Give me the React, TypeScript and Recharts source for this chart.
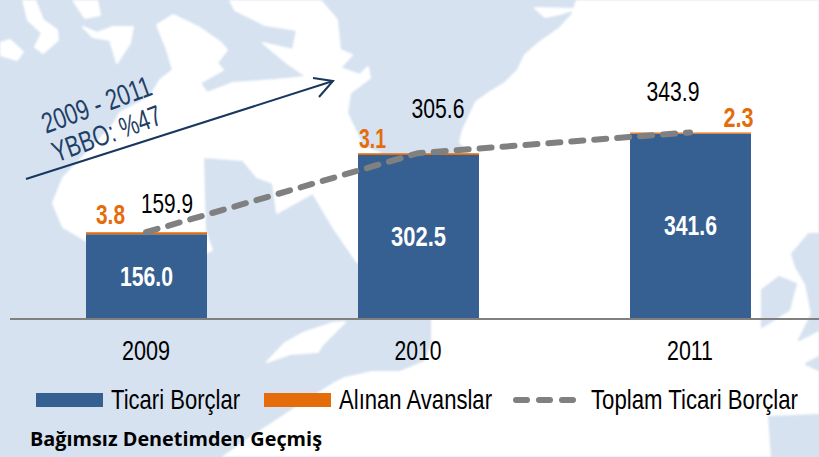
import { Bar, ComposedChart, LabelList, Line, XAxis, YAxis } from "recharts";

const years = ["2009", "2010", "2011"];
const ticariBorclar = [156.0, 302.5, 341.6];
const alinanAvanslar = [3.8, 3.1, 2.3];
const toplamTicari = [159.9, 305.6, 343.9];
const legendNames = ["Ticari Borçlar", "Alınan Avanslar", "Toplam Ticari Borçlar"];

const chartData = years.map((year, i) => ({
  year,
  ticari: ticariBorclar[i],
  avans: alinanAvanslar[i],
  toplam: toplamTicari[i],
}));

const BLUE = "#376092";
const ORANGE = "#e46c0a";
const GREY = "#808080";
const MAP = "#d6e2f0";
const FONT = '"Liberation Sans", Arial, sans-serif';

// label nudges, one per year
const avansOffset = [
  { dx: -36, dy: -18 },
  { dx: -46, dy: -15 },
  { dx: 48, dy: -15 },
];
const toplamOffset = [
  { dx: 21, dy: -29 },
  { dx: 20, dy: -45 },
  { dx: -17, dy: -41 },
];

// the source text is squeezed horizontally, so widths are set per label
const yearWidth = [48, 47, 46];
const ticariWidth = [53, 55, 53];
const avansWidth = [29, 27, 30];
const toplamWidth = [52, 53, 53];

// backdrop world map, traced by eye
const whiteLand = [
  "230,0 320,0 337,20 340,50 352,55 340,68 360,75 368,67 370,78 350,93 347,113 363,147 380,153 380,270 357,262 333,227 313,193 277,213 273,183 257,177 243,160 203,157 205,230 212,250 205,253 150,260 85,240 63,227 53,203 63,178 85,155 113,125 120,113 150,97 160,80 173,70 167,50 157,25 173,15 200,28 220,42 227,50 217,63 223,70 200,83 207,93 233,83 275,80 307,77 287,63 263,43 293,50 297,30 265,25 235,10",
  "577,0 819,0 819,457 223,457 262,430 300,405 333,384 345,378 372,372 400,372 425,362 432,345 432,318 478,318 478,153 470,153 460,142 463,130 470,115 476,102 490,92 505,83 518,70 525,55 540,42 560,28 572,15",
  "267,362 285,343 303,333 333,323 345,322 322,345 318,352 290,354",
  "23,0 35,0 43,20 57,30 58,40 43,53 35,47 42,33 28,20",
  "0,43 10,40 23,52 17,60 0,55",
  "83,27 97,33 113,27 133,27 130,43 117,63 110,40 93,37",
  "73,0 97,0 100,15 85,18",
  "535,8 575,9 560,14 545,17",
];
const blueLand = [
  "762,290 779,277 796,284 789,310 762,327",
  "792,254 809,234 819,234 819,330 799,340 812,314 806,284 796,267",
  "806,364 819,357 819,370",
  "769,417 819,415 819,457 772,457",
];

const legendSwatches = [
  { x: 36, color: BLUE },
  { x: 264, color: ORANGE },
];

function AvansLabel({ x, y, width, value, index }: any) {
  const off = avansOffset[index];
  return (
    <text
      x={x + width / 2 + off.dx}
      y={y + off.dy}
      textAnchor="middle"
      dominantBaseline="central"
      fill={ORANGE}
      fontFamily={FONT}
      fontSize={28}
      fontWeight={700}
      textLength={avansWidth[index]}
      lengthAdjust="spacingAndGlyphs"
    >
      {Number(value).toFixed(1)}
    </text>
  );
}

function TicariLabel({ x, y, width, height, value, index }: any) {
  return (
    <text
      x={x + width / 2}
      y={y + height / 2}
      textAnchor="middle"
      dominantBaseline="central"
      fill="#ffffff"
      fontFamily={FONT}
      fontSize={27}
      fontWeight={700}
      textLength={ticariWidth[index]}
      lengthAdjust="spacingAndGlyphs"
    >
      {Number(value).toFixed(1)}
    </text>
  );
}

function ToplamLabel({ x, y, value, index }: any) {
  const off = toplamOffset[index];
  return (
    <text
      x={x + off.dx}
      y={y + off.dy}
      textAnchor="middle"
      dominantBaseline="central"
      fill="#000000"
      fontFamily={FONT}
      fontSize={28}
      textLength={toplamWidth[index]}
      lengthAdjust="spacingAndGlyphs"
    >
      {Number(value).toFixed(1)}
    </text>
  );
}

function YearTick({ x, y, payload, index }: any) {
  return (
    <text
      x={x}
      y={y + 25}
      textAnchor="middle"
      fill="#000000"
      fontFamily={FONT}
      fontSize={28}
      textLength={yearWidth[index]}
      lengthAdjust="spacingAndGlyphs"
    >
      {payload.value}
    </text>
  );
}

export default function App() {
  return (
    <div style={{ position: "absolute", left: 0, top: 0, width: 819, height: 457, overflow: "hidden", background: MAP }}>
      <svg width={819} height={457} style={{ position: "absolute", left: 0, top: 0, filter: "blur(0.8px)" }}>
        {whiteLand.map((p, i) => (
          <polygon key={i} points={p} fill="#ffffff" stroke="#ffffff" strokeWidth={2} strokeLinejoin="round" />
        ))}
        {blueLand.map((p, i) => (
          <polygon key={i} points={p} fill={MAP} stroke={MAP} strokeWidth={2} strokeLinejoin="round" />
        ))}
      </svg>

      <div style={{ position: "absolute", left: 0, top: 0 }}>
        <ComposedChart
          width={830}
          height={457}
          data={chartData}
          margin={{ top: 102, right: 4, bottom: 0, left: 10 }}
        >
          <XAxis
            dataKey="year"
            height={138}
            axisLine={{ stroke: GREY, strokeWidth: 2 }}
            tickLine={false}
            tickMargin={10}
            tick={YearTick}
          />
          <YAxis hide domain={[0, 400]} />
          <Bar dataKey="ticari" stackId="a" fill={BLUE} barSize={121} isAnimationActive={false}>
            <LabelList dataKey="ticari" content={TicariLabel} />
          </Bar>
          <Bar dataKey="avans" stackId="a" fill={ORANGE} barSize={121} isAnimationActive={false}>
            <LabelList dataKey="avans" content={AvansLabel} />
          </Bar>
          <Line
            dataKey="toplam"
            stroke={GREY}
            strokeWidth={6}
            strokeDasharray="12 11"
            strokeLinecap="round"
            dot={false}
            isAnimationActive={false}
          >
            <LabelList dataKey="toplam" content={ToplamLabel} />
          </Line>
        </ComposedChart>
      </div>

      <svg width={819} height={457} style={{ position: "absolute", left: 0, top: 0 }}>
        {/* growth arrow */}
        <g fill="none" stroke="#17375e" strokeWidth={2}>
          <line x1={26} y1={179} x2={333} y2={81} />
          <polyline points="313,78 333,81 319,97" />
        </g>
        <g fill="#1f3f66" fontFamily={FONT} fontSize={29} textAnchor="middle">
          <text transform="translate(100,114) rotate(-20)" textLength={115} lengthAdjust="spacingAndGlyphs">2009 - 2011</text>
          <text transform="translate(110,143) rotate(-20)" textLength={114} lengthAdjust="spacingAndGlyphs">YBBO: %47</text>
        </g>

        {/* legend */}
        {legendSwatches.map((s) => (
          <rect key={s.x} x={s.x} y={393} width={67} height={14} fill={s.color} />
        ))}
        <line x1={516} y1={400} x2={574} y2={400} stroke={GREY} strokeWidth={6} strokeDasharray="11 12" strokeLinecap="round" />
        <g fill="#000000" fontFamily={FONT} fontSize={28}>
          <text x={111} y={409} textLength={129} lengthAdjust="spacingAndGlyphs">{legendNames[0]}</text>
          <text x={339} y={409} textLength={153} lengthAdjust="spacingAndGlyphs">{legendNames[1]}</text>
          <text x={591} y={409} textLength={207} lengthAdjust="spacingAndGlyphs">{legendNames[2]}</text>
        </g>

        <text
          x={30}
          y={446}
          fontFamily='"Open Sans", "Noto Sans", sans-serif'
          fontWeight={700}
          fontSize={19}
          fill="#000000"
          textLength={292}
          lengthAdjust="spacingAndGlyphs"
        >
          Bağımsız Denetimden Geçmiş
        </text>
      </svg>
    </div>
  );
}
